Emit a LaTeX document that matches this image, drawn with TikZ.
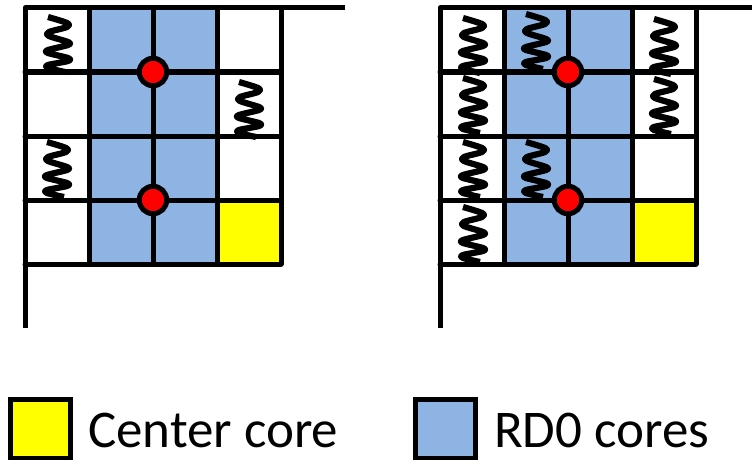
\documentclass[tikz,border=0pt]{standalone}
\usepackage{fontspec}
\setmainfont{Carlito}
\definecolor{rdblue}{RGB}{142,180,227}
\definecolor{coreyellow}{RGB}{255,255,0}
\definecolor{hubred}{RGB}{255,0,0}
\tikzset{
  gridline/.style={line width=5pt,line cap=round,line join=round,black},
  coil/.style={line width=6.2pt,black,line cap=butt,line join=round},
  hub/.style={circle,draw=black,fill=hubred,line width=5pt,minimum size=27.5pt,inner sep=0pt},
  keybox/.style={draw=black,line width=5pt,minimum width=60pt,minimum height=59pt,inner sep=0pt},
  keytext/.style={anchor=base west,inner sep=0pt,font=\fontsize{53}{53}\selectfont}
}
% spring whose top is at (#1,#2)
\newcommand{\coilat}[2]{%
  \draw[coil,shift={(#1,#2)}] plot[smooth,tension=0.5] coordinates {
    (-10,0) (9,6) (9,10) (-9,15) (-9,19) (10,25) (10,28) (-10,33) (-10,36) (10,41) (10,44) (-10,48) (-10,51) (7,55)};}
\newcommand{\panel}[2]{%
  \begin{scope}[xshift=#1pt]
    \fill[rdblue] (89,8) rectangle (217,264);
    \fill[coreyellow] (217,200) rectangle (281,264);
    #2
    \foreach \y in {72,136,200,264} \draw[gridline] (25,\y) -- (281,\y);
    \foreach \x in {89,153,217,281} \draw[gridline] (\x,8) -- (\x,264);
    \draw[gridline,line cap=butt] (25,328) -- (25,8) -- (345,8);
    \node[hub] at (153,72) {};
    \node[hub] at (153,200) {};
  \end{scope}}
\begin{document}
\begin{tikzpicture}[x=1pt,y=-1pt]
\useasboundingbox (0,0) rectangle (752,460);
\panel{0}{\coilat{58}{17}\coilat{249}{82}\coilat{57}{142}}
\panel{415}{\coilat{58}{18}\coilat{58}{78}\coilat{58}{142}\coilat{58}{207}
  \coilat{121}{14}\coilat{121}{142}\coilat{249}{19}\coilat{249}{79}}
\node[keybox,fill=coreyellow] (kc) at (40,428.5) {};
\node[keytext] (tc) at (88,447) {Center core};
\node[keybox,fill=rdblue] (kr) at (445.5,428.5) {};
\node[keytext] (tr) at (494,447) {RD0 cores};
\end{tikzpicture}
\end{document}
